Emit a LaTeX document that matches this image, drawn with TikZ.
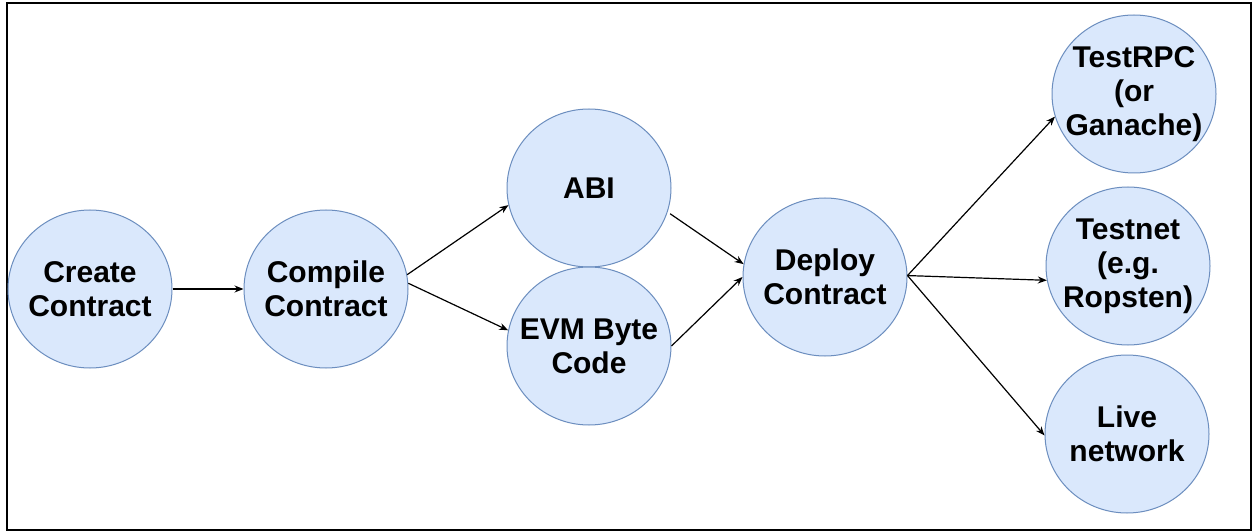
\documentclass[tikz,border=0pt]{standalone}
\usepackage{fontspec}
\setmainfont{Liberation Sans}
\usetikzlibrary{shapes.geometric,arrows.meta}
\definecolor{bubblefill}{HTML}{DAE8FC}
\definecolor{bubbleline}{HTML}{6C8EBF}
\begin{document}
\begin{tikzpicture}[x=1pt,y=-1pt,
  bubble/.style={ellipse, draw=bubbleline, fill=bubblefill, line width=1pt,
    minimum width=164pt, minimum height=158pt, inner sep=0pt},
  txt/.style={font=\fontsize{30}{34}\selectfont\bfseries, align=center, inner sep=0pt, text=black},
  arr/.style={-{Stealth[length=9pt,width=7pt]}, line width=1.2pt, black}]
\useasboundingbox (0,0) rectangle (1254,532);
\fill[white] (0,0) rectangle (1254,532);
\draw[line width=2pt] (7,3) rectangle (1251,530);

\node[bubble, label={[txt]center:Create\\Contract}] (create) at (90,289) {};
\node[bubble, label={[txt]center:Compile\\Contract}] (compile) at (326,289) {};
\node[bubble, label={[txt]center:ABI}] (abi) at (589,188) {};
\node[bubble, label={[txt]center:EVM Byte\\Code}] (evm) at (589,346) {};
\node[bubble, label={[txt]center:Deploy\\Contract}] (deploy) at (825,277) {};
\node[bubble, label={[txt]center:TestRPC\\(or\\Ganache)}] (testrpc) at (1134,94) {};
\node[bubble, label={[txt]center:Testnet\\(e.g.\\Ropsten)}] (testnet) at (1128,266) {};
\node[bubble, label={[txt]center:Live\\network}] (live) at (1127,434) {};

\draw[arr] (create.0) -- (compile.180);
\draw[arr] (compile.10) -- (abi.192);
\draw[arr] (compile.4) -- (evm.169);
\draw[arr, shorten <=3pt] (abi.-17) -- (deploy.171);
\draw[arr] (evm.0) -- (deploy.180);
\draw[arr] (deploy.1) -- (testrpc.196);
\draw[arr] (deploy.1) -- (testnet.190);
\draw[arr] (deploy.1) -- (live.181);
\end{tikzpicture}
\end{document}
